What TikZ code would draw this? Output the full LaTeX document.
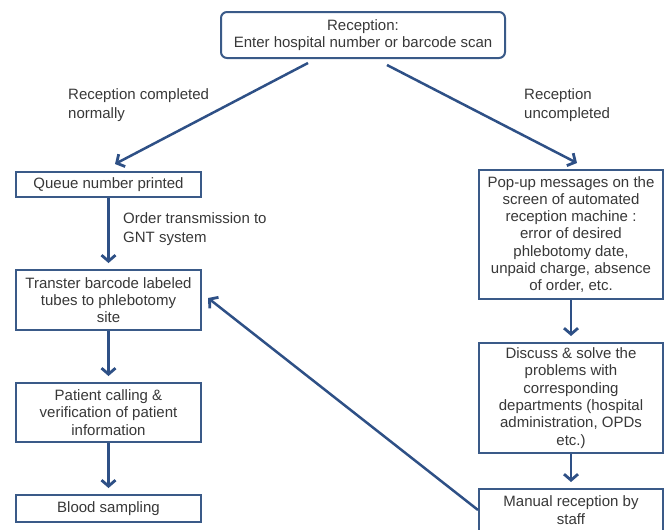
\documentclass[tikz,border=0pt]{standalone}
\usepackage{fontspec}
\setmainfont{Liberation Sans}
\usetikzlibrary{arrows.meta}
\definecolor{boxblue}{HTML}{3A5A88}
\definecolor{arrblue}{HTML}{2E5086}
\definecolor{txt}{HTML}{383838}
\tikzset{
  box/.style={draw=boxblue, line width=2pt, fill=white, align=center, text=txt,
    font=\fontsize{15}{17.3}\selectfont, inner sep=0pt},
  lbl/.style={align=left, text=txt, font=\fontsize{15}{19}\selectfont, inner sep=0pt, anchor=north west},
  arr/.style={draw=arrblue, line width=2.5pt, -{Straight Barb[length=6pt,width=14pt,line width=2.8pt]}}
}
\begin{document}
\begin{tikzpicture}[x=1pt,y=-1pt]
\useasboundingbox (0,0) rectangle (664,530);
\clip (0,0) rectangle (664,530);
\node[box, rounded corners=6pt, minimum width=284pt, minimum height=46pt] (rec) at (363,35) {Reception:\\Enter hospital number or barcode scan};
\node[box, minimum width=185pt, minimum height=25pt] (queue) at (108.5,184.5) {Queue number printed};
\node[box, minimum width=185pt, minimum height=60pt] (tube) at (108.5,300) {Transter barcode labeled\\tubes to phlebotomy\\site};
\node[box, minimum width=185pt, minimum height=59pt] (call) at (108.5,412.5) {Patient calling \&\\verification of patient\\information};
\node[box, minimum width=185pt, minimum height=27pt] (blood) at (108.5,508.5) {Blood sampling};
\node[box, minimum width=184pt, minimum height=129pt] (pop) at (571,234.5) {Pop-up messages on the\\screen of automated\\reception machine :\\error of desired\\phlebotomy date,\\unpaid charge, absence\\of order, etc.};
\node[box, minimum width=184pt, minimum height=110pt] (disc) at (571,398) {Discuss \& solve the\\problems with\\corresponding\\departments (hospital\\administration, OPDs\\etc.)};
\node[box, minimum width=184pt, minimum height=42pt] (man) at (571,510) {Manual reception by\\staff};
\coordinate (recL) at (308,63);
\coordinate (recR) at (387,65);
\coordinate (qL) at (115,164);
\coordinate (pR) at (577,163);
\coordinate (manL) at (478,510);
\coordinate (tubeR) at (208,298);
\draw[arr] (recL) -- (qL);
\draw[arr] (recR) -- (pR);
\draw[arr] (queue.south) -- ([yshift=6pt]tube.north);
\draw[arr] (tube.south) -- ([yshift=6pt]call.north);
\draw[arr] (call.south) -- ([yshift=6pt]blood.north);
\draw[arr] (pop.south) -- ([yshift=6pt]disc.north);
\draw[arr] (disc.south) -- ([yshift=6pt]man.north);
\draw[arr] (manL) -- (tubeR);
\node[lbl] (l1) at (68,88) {Reception completed\\normally};
\node[lbl] (l2) at (524,88) {Reception\\uncompleted};
\node[lbl] (l3) at (123,212) {Order transmission to\\GNT system};
\end{tikzpicture}
\end{document}
